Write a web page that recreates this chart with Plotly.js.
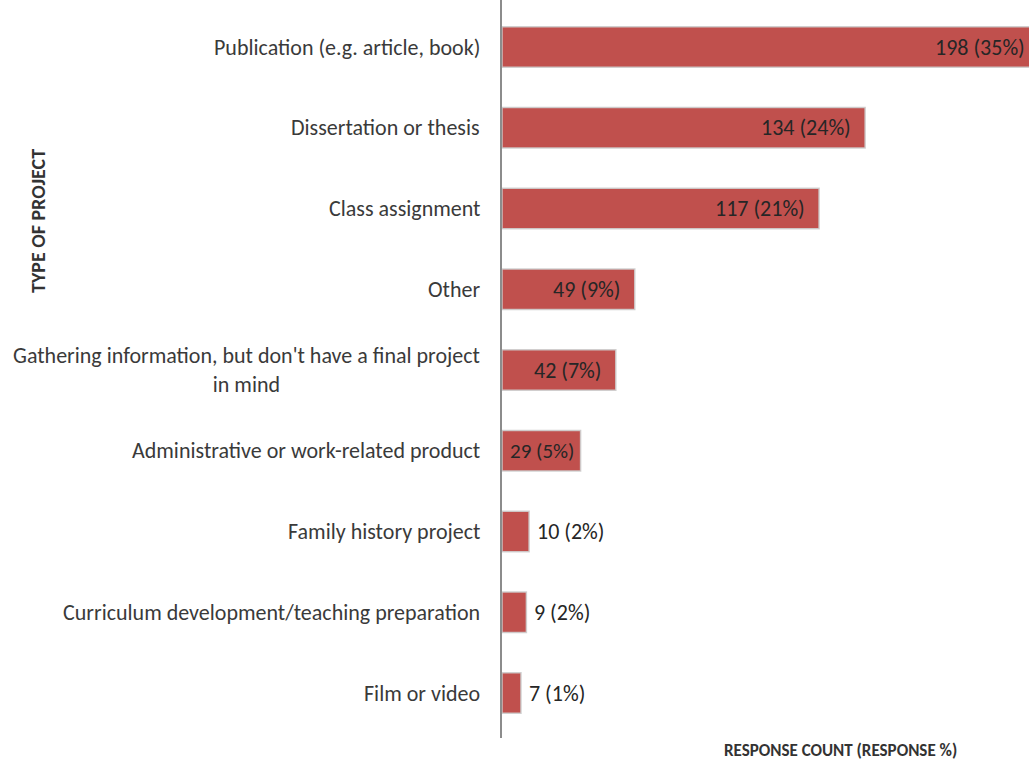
<!DOCTYPE html>
<html>
<head>
<meta charset="utf-8">
<script src="https://cdn.plot.ly/plotly-3.0.1.min.js"></script>
<style>
  html, body { margin: 0; padding: 0; background: #ffffff; overflow: hidden; width: 1029px; height: 761px; }
  #chart { width: 1044px; height: 761px; }
</style>
</head>
<body>
<div id="chart"></div>
<script>
// ---- data ----
const categories = [
  "Publication (e.g. article, book)",
  "Dissertation or thesis",
  "Class assignment",
  "Other",
  "Gathering information, but don't have a final project in mind",
  "Administrative or work-related product",
  "Family history project",
  "Curriculum development/teaching preparation",
  "Film or video"
];
const tickLabels = [
  "Publication (e.g. article, book)",
  "Dissertation or thesis",
  "Class assignment",
  "Other",
  "Gathering information, but don't have a final project<br>in mind",
  "Administrative or work-related product",
  "Family history project",
  "Curriculum development/teaching preparation",
  "Film or video"
];
const counts = [198, 134, 117, 49, 42, 29, 10, 9, 7];
const percents = [35, 24, 21, 9, 7, 5, 2, 2, 1];
const xAxisTitle = "RESPONSE COUNT (RESPONSE %)";
const yAxisTitle = "TYPE OF PROJECT";

const FONT = "Carlito, 'Liberation Sans Narrow', 'Open Sans', sans-serif";
const BAR = "#C0504D";

const trace = {
  type: "bar",
  orientation: "h",
  y: categories,
  x: counts,
  marker: { color: BAR, line: { color: "rgba(205,205,205,0.9)", width: 1.5 } },
  width: 0.5,
  hoverinfo: "x+y",
  cliponaxis: true
};

const annotations = [];
// category labels (centered multi-line, right-anchored)
categories.forEach((c, i) => {
  annotations.push({
    xref: "paper", yref: "y", x: 0, y: c,
    xanchor: "right", yanchor: "middle", xshift: -20,
    text: tickLabels[i], showarrow: false, align: "center",
    font: { family: FONT, size: 22, color: "#3a3a3a" }
  });
});
// value labels
categories.forEach((c, i) => {
  const inside = counts[i] >= 20;
  const tight = inside && counts[i] < 35;
  annotations.push({
    xref: "x", yref: "y", x: counts[i], y: c,
    xanchor: inside ? "right" : "left", yanchor: "middle",
    xshift: inside ? (tight ? -5 : -12) : 6,
    text: counts[i] + " (" + percents[i] + "%)", showarrow: false,
    font: { family: FONT, size: tight ? 21 : 22, color: "#262626" }
  });
});
// axis titles
annotations.push({
  xref: "paper", yref: "paper", x: (840 - 502) / (1044 - 502), y: 0,
  xanchor: "center", yanchor: "middle", yshift: -12,
  text: "<b>" + xAxisTitle + "</b>", showarrow: false,
  font: { family: FONT, size: 17, color: "#333333" }
});
annotations.push({
  xref: "paper", yref: "paper", x: 0, y: 1, xshift: -464, yshift: -221,
  xanchor: "center", yanchor: "middle", textangle: -90,
  text: "<b>" + yAxisTitle + "</b>", showarrow: false,
  font: { family: FONT, size: 20, color: "#333333" }
});

const layout = {
  width: 1044, height: 761,
  margin: { l: 502, r: 0, t: 0, b: 23 },
  paper_bgcolor: "#ffffff", plot_bgcolor: "#ffffff",
  showlegend: false,
  bargap: 0.5,
  xaxis: {
    range: [0, 200], showgrid: false, zeroline: false,
    showticklabels: false, ticks: "", showline: false, fixedrange: true
  },
  yaxis: {
    type: "category", categoryorder: "array", categoryarray: categories,
    range: [8.557, -0.582], showticklabels: false, ticks: "",
    showgrid: false, zeroline: false,
    showline: true, linecolor: "#8c8c8c", linewidth: 2, fixedrange: true
  },
  annotations: annotations
};

Plotly.newPlot("chart", [trace], layout, { displayModeBar: false, staticPlot: true });
</script>
</body>
</html>
